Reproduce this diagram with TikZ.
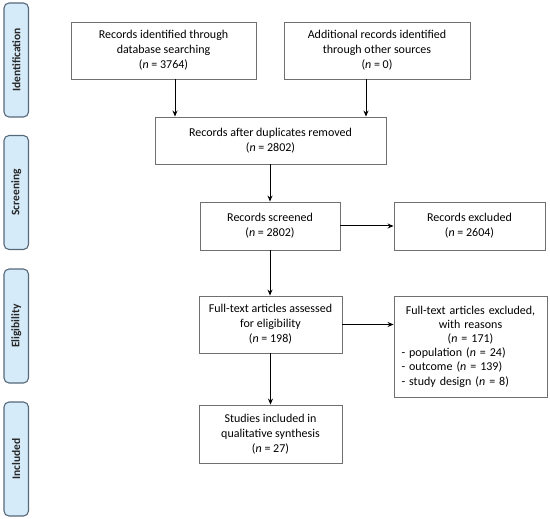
\documentclass[tikz,border=0pt]{standalone}
\usepackage{fontspec}
\setmainfont{Carlito}
\usetikzlibrary{arrows.meta}
\definecolor{barfill}{HTML}{D6EBFA}
\definecolor{barline}{HTML}{56687A}
\definecolor{boxline}{HTML}{707070}
\begin{document}
\begin{tikzpicture}[x=1pt, y=-1pt,
	main/.style = {draw=boxline, line width=0.9pt, align=center, inner sep=0pt, font=\fontsize{12}{15}\selectfont},
	phase/.style = {draw=barline, fill=barfill, rounded corners=5pt, line width=1.1pt, rotate=90, minimum width=114pt, minimum height=24.5pt, inner sep=0pt, text=black!85, font=\bfseries\fontsize{11.5}{12}\selectfont},
	flow/.style = {-{Stealth[length=6pt, width=5pt]}, line width=1pt}]
		\useasboundingbox (0,0) rectangle (550,519);
		\node[phase] (ident) at (16.25,60) {Identification};
		\node[phase] (screen) at (16.25,192.5) {Screening};
		\node[phase] (elig) at (16.25,326) {Eligibility};
		\node[phase] (incl) at (16.25,459) {Included};
		\node[main, minimum width=185pt, minimum height=57pt] (1) at (163.5,50.5) {Records identified through\\ database searching\\ (\textit{n} = 3764)};
		\node[main, minimum width=186pt, minimum height=57pt] (2) at (377,50.5) {Additional records identified\\ through other sources\\ (\textit{n} = 0)};
		\node[main, minimum width=231pt, minimum height=47pt] (3) at (270.5,140.5) {Records after duplicates removed\\ (\textit{n} = 2802)};
		\node[main, minimum width=140pt, minimum height=48pt] (4) at (270,226) {Records screened\\ (\textit{n} = 2802)};
		\node[main, minimum width=151pt, minimum height=48pt] (5) at (469.5,226) {Records excluded\\ (\textit{n} = 2604)};
		\node[main, minimum width=143pt, minimum height=57pt] (6) at (270.5,324.5) {Full-text articles assessed\\ for eligibility\\ (\textit{n} = 198)};
		\node[main, minimum width=153pt, minimum height=101pt, text width=138pt, align=left, font=\fontsize{12}{14.2}\selectfont] (7) at (470.5,346.5) {{\centering Full-text articles excluded,\\ with reasons\\ (\textit{n} = 171)\par}- population (\textit{n} = 24)\\ - outcome (\textit{n} = 139)\\ - study design (\textit{n} = 8)};
		\node[main, minimum width=143pt, minimum height=58pt] (8) at (270.5,434) {Studies included in\\ qualitative synthesis\\ (\textit{n} = 27)};
		\draw[flow] ([xshift=11.5pt]1.south) -- ([xshift=11.5pt]1.south |- 3.north);
		\draw[flow] ([xshift=-11pt]2.south) -- ([xshift=-11pt]2.south |- 3.north);
		\draw[flow] (3.south -| 4.north) -- (4.north);
		\draw[flow] (4.east) -- (5.west);
		\draw[flow] (4.south) -- (6.north -| 4.south);
		\draw[flow] (6.east) -- (6.east -| 7.west);
		\draw[flow] (6.south) -- (8.north);
\end{tikzpicture}
\end{document}
